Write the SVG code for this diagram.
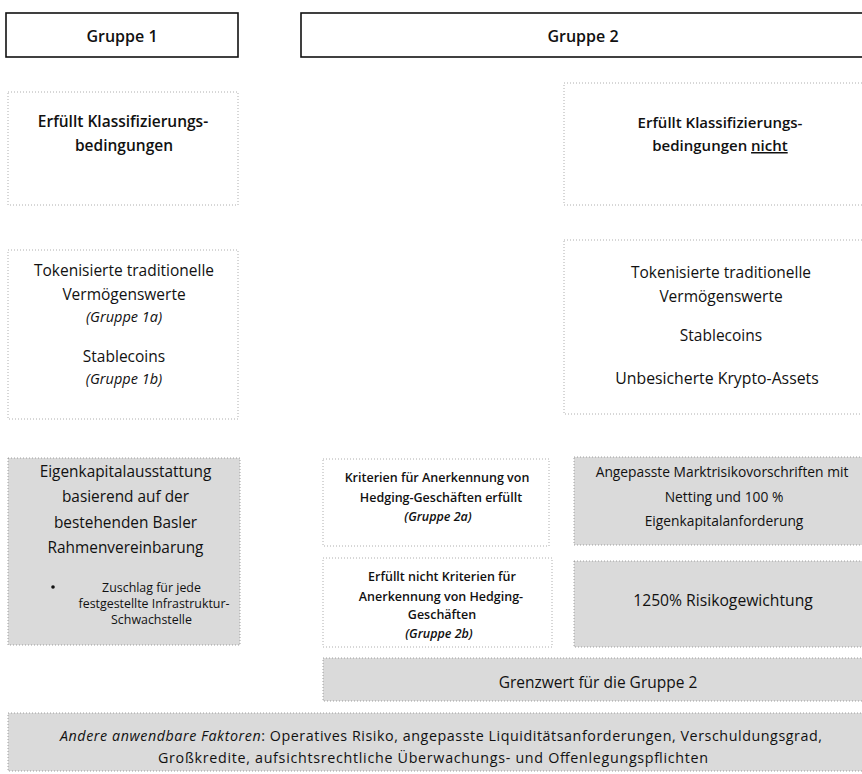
<svg xmlns="http://www.w3.org/2000/svg" width="862" height="774" viewBox="0 0 862 774">
<style>
  text { font-family: "Open Sans", "Noto Sans", "Liberation Sans", sans-serif; fill: #111; text-anchor: middle; }
  .hdr { fill: #fff; stroke: #111; stroke-width: 1.6; }
  .faint { fill: #fff; stroke: #9a9a9a; stroke-width: 0.8; stroke-dasharray: 1 2; }
  .gray { fill: #dadada; stroke: #8a8a8a; stroke-width: 0.8; stroke-dasharray: 1 2; }
  .b { font-weight: 600; }
  .i { font-style: italic; }
</style>
<rect width="862" height="774" fill="#fff"/>

<g id="gruppe1">
  <rect class="hdr" x="6" y="13" width="232" height="44"/>
  <text x="122" y="42" font-size="16" class="b">Gruppe 1</text>
</g>
<g id="gruppe2">
  <rect class="hdr" x="301" y="13" width="570" height="44"/>
  <text x="583" y="42" font-size="16" class="b">Gruppe 2</text>
</g>

<g id="erfuellt">
  <rect class="faint" x="8" y="92" width="230" height="113"/>
  <text x="123" y="127" font-size="15.5" class="b">Erfüllt Klassifizierungs-</text>
  <text x="124" y="151" font-size="15.5" class="b">bedingungen</text>
</g>
<g id="erfuellt-nicht">
  <rect class="faint" x="564" y="83" width="304" height="122"/>
  <text x="720" y="128" font-size="15" class="b">Erfüllt Klassifizierungs-</text>
  <text x="720" y="151" font-size="15" class="b">bedingungen <tspan text-decoration="underline">nicht</tspan></text>
</g>

<g id="assets1">
  <rect class="faint" x="8" y="250" width="230" height="169"/>
  <text x="124" y="276" font-size="15.5">Tokenisierte traditionelle</text>
  <text x="124" y="300" font-size="15.5">Vermögenswerte</text>
  <text x="124" y="322" font-size="14.5" class="i">(Gruppe 1a)</text>
  <text x="124" y="362" font-size="15.5">Stablecoins</text>
  <text x="124" y="384" font-size="14.5" class="i">(Gruppe 1b)</text>
</g>
<g id="assets2">
  <rect class="faint" x="564" y="240" width="304" height="174"/>
  <text x="721" y="278" font-size="15.5">Tokenisierte traditionelle</text>
  <text x="721" y="302" font-size="15.5">Vermögenswerte</text>
  <text x="721" y="341" font-size="15.5">Stablecoins</text>
  <text x="717" y="384" font-size="15.8">Unbesicherte Krypto-Assets</text>
</g>

<g id="eigenkapital">
  <rect class="gray" x="8" y="458" width="232" height="187"/>
  <text x="125.5" y="477" font-size="15.4">Eigenkapitalausstattung</text>
  <text x="125.5" y="502" font-size="15.4">basierend auf der</text>
  <text x="125.5" y="528" font-size="15.4">bestehenden Basler</text>
  <text x="125.5" y="553" font-size="15.4">Rahmenvereinbarung</text>
  <circle cx="53" cy="587" r="1.8" fill="#111"/>
  <text x="151.5" y="592" font-size="12.4">Zuschlag für jede</text>
  <text x="154" y="608" font-size="12.4">festgestellte Infrastruktur-</text>
  <text x="151.5" y="624" font-size="12.4">Schwachstelle</text>
</g>

<g id="gruppe2a">
  <rect class="faint" x="323" y="459" width="226" height="87"/>
  <text x="437" y="482" font-size="12.5" class="b">Kriterien für Anerkennung von</text>
  <text x="441" y="502" font-size="12.5" class="b">Hedging-Geschäften erfüllt</text>
  <text x="438" y="521" font-size="12.5" class="b i">(Gruppe 2a)</text>
</g>
<g id="gruppe2b">
  <rect class="faint" x="323" y="558" width="229" height="89"/>
  <text x="442" y="581" font-size="12.5" class="b">Erfüllt nicht Kriterien für</text>
  <text x="441" y="601" font-size="12.5" class="b">Anerkennung von Hedging-</text>
  <text x="442" y="619" font-size="12.5" class="b">Geschäften</text>
  <text x="439" y="638" font-size="12.5" class="b i">(Gruppe 2b)</text>
</g>

<g id="markt">
  <rect class="gray" x="574" y="457" width="294" height="88"/>
  <text x="722" y="477" font-size="13.8">Angepasste Marktrisikovorschriften mit</text>
  <text x="724" y="502" font-size="13.8">Netting und 100 %</text>
  <text x="724" y="526" font-size="13.8">Eigenkapitalanforderung</text>
</g>
<g id="risikogewicht">
  <rect class="gray" x="574" y="561" width="294" height="86"/>
  <text x="723" y="606" font-size="15.7">1250% Risikogewichtung</text>
</g>

<g id="grenzwert">
  <rect class="gray" x="323" y="658" width="545" height="43"/>
  <text x="598" y="688" font-size="15.5">Grenzwert für die Gruppe 2</text>
</g>

<g id="andere">
  <rect class="gray" x="8" y="713" width="860" height="58"/>
  <text x="441" y="741" font-size="14.3" textLength="762" lengthAdjust="spacing"><tspan class="i">Andere anwendbare Faktoren</tspan>: Operatives Risiko, angepasste Liquiditätsanforderungen, Verschuldungsgrad,</text>
  <text x="433" y="763" font-size="14.3" textLength="550" lengthAdjust="spacing">Großkredite, aufsichtsrechtliche Überwachungs- und Offenlegungspflichten</text>
</g>

<g id="connectors"></g>
</svg>
